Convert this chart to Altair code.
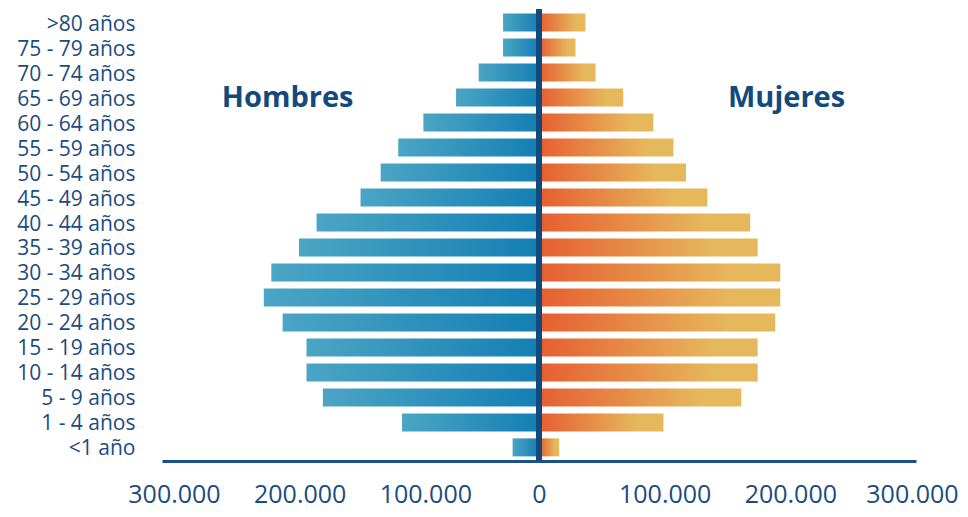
import altair as alt
import pandas as pd

ages = [">80 años", "75 - 79 años", "70 - 74 años", "65 - 69 años", "60 - 64 años",
        "55 - 59 años", "50 - 54 años", "45 - 49 años", "40 - 44 años", "35 - 39 años",
        "30 - 34 años", "25 - 29 años", "20 - 24 años", "15 - 19 años", "10 - 14 años",
        "5 - 9 años", "1 - 4 años", "<1 año"]
hombres = [28600, 28600, 48000, 66000, 92000, 112000, 126000, 142000, 177000, 191000,
           213000, 219000, 204000, 185000, 185000, 172000, 109000, 21000]
mujeres = [37000, 29000, 45000, 67000, 91000, 107000, 117000, 134000, 168000, 174000,
           192000, 192000, 188000, 174000, 174000, 161000, 99000, 16000]
tick_values = [-300000, -200000, -100000, 0, 100000, 200000, 300000]

annot_labels = ["Hombres", "Mujeres"]
annot_x = [-200000, 197000]
annot_row = ["65 - 69 años", "65 - 69 años"]

df = pd.DataFrame({"age": ages, "hombres": hombres, "mujeres": mujeres})
df["neg"] = -df["hombres"]
annot = pd.DataFrame({"label": annot_labels, "pos": annot_x, "age": annot_row})
zero = pd.DataFrame({"z": [0]})

NAVY = "#134a7e"
TEXT = "#1a4c80"
FONT = "Open Sans"

xscale = alt.Scale(domain=[-300000, 300000], nice=False, zero=False)
xaxis = alt.Axis(values=tick_values,
                 labelExpr="replace(format(abs(datum.value), ',d'), ',', '.')",
                 ticks=False, grid=False, domainColor="#1b5089", domainWidth=3,
                 labelFont=FONT, labelFontSize=25, labelColor=TEXT, labelPadding=21,
                 labelOffset={"condition": [{"test": "datum.value < 0", "value": 12},
                                            {"test": "datum.value >= 300000", "value": -4}],
                              "value": 0},
                 title=None, labelFlush=False, labelOverlap=False)
yscale = alt.Scale(domain=ages, paddingInner=0.28, paddingOuter=0.185)
yaxis = alt.Axis(title=None, ticks=False, domain=False, grid=False, labelOffset=2,
                 labelFont=FONT, labelFontSize=21, labelColor=TEXT, labelPadding=27)

y_enc = alt.Y("age:N", scale=yscale, axis=yaxis, sort=ages)

left = alt.Chart(df).mark_bar(
    color=alt.Gradient(gradient="linear", x1=0, x2=1, y1=0, y2=0,
                       stops=[alt.GradientStop(offset=0, color="#4ba5c4"),
                              alt.GradientStop(offset=1, color="#147fb4")])
).encode(x=alt.X("neg:Q", scale=xscale, axis=xaxis), y=y_enc)

right = alt.Chart(df).mark_bar(
    color=alt.Gradient(gradient="linear", x1=0, x2=1, y1=0, y2=0,
                       stops=[alt.GradientStop(offset=0, color="#e65e31"),
                              alt.GradientStop(offset=0.8, color="#e6b85c"),
                              alt.GradientStop(offset=1, color="#e6b85c")])
).encode(x=alt.X("mujeres:Q", scale=xscale, axis=xaxis), y=y_enc)

center = alt.Chart(zero).mark_rule(color=NAVY, strokeWidth=6).encode(
    x=alt.X("z:Q", scale=xscale, axis=xaxis))

labels = alt.Chart(annot).mark_text(
    font=FONT, fontSize=29, fontWeight="bold", color=NAVY, align="center", baseline="middle"
).encode(x=alt.X("pos:Q", scale=xscale, axis=xaxis), y=y_enc, text="label:N")

chart = alt.layer(left, right, center, labels).properties(
    width=754, height=452,
    autosize=alt.AutoSizeParams(type="none"),
    padding={"left": 154, "top": 1, "right": 44, "bottom": 48},
    background="white",
).configure_view(stroke=None)

chart.save("out.html", embed_options={"renderer": "svg", "actions": False})
